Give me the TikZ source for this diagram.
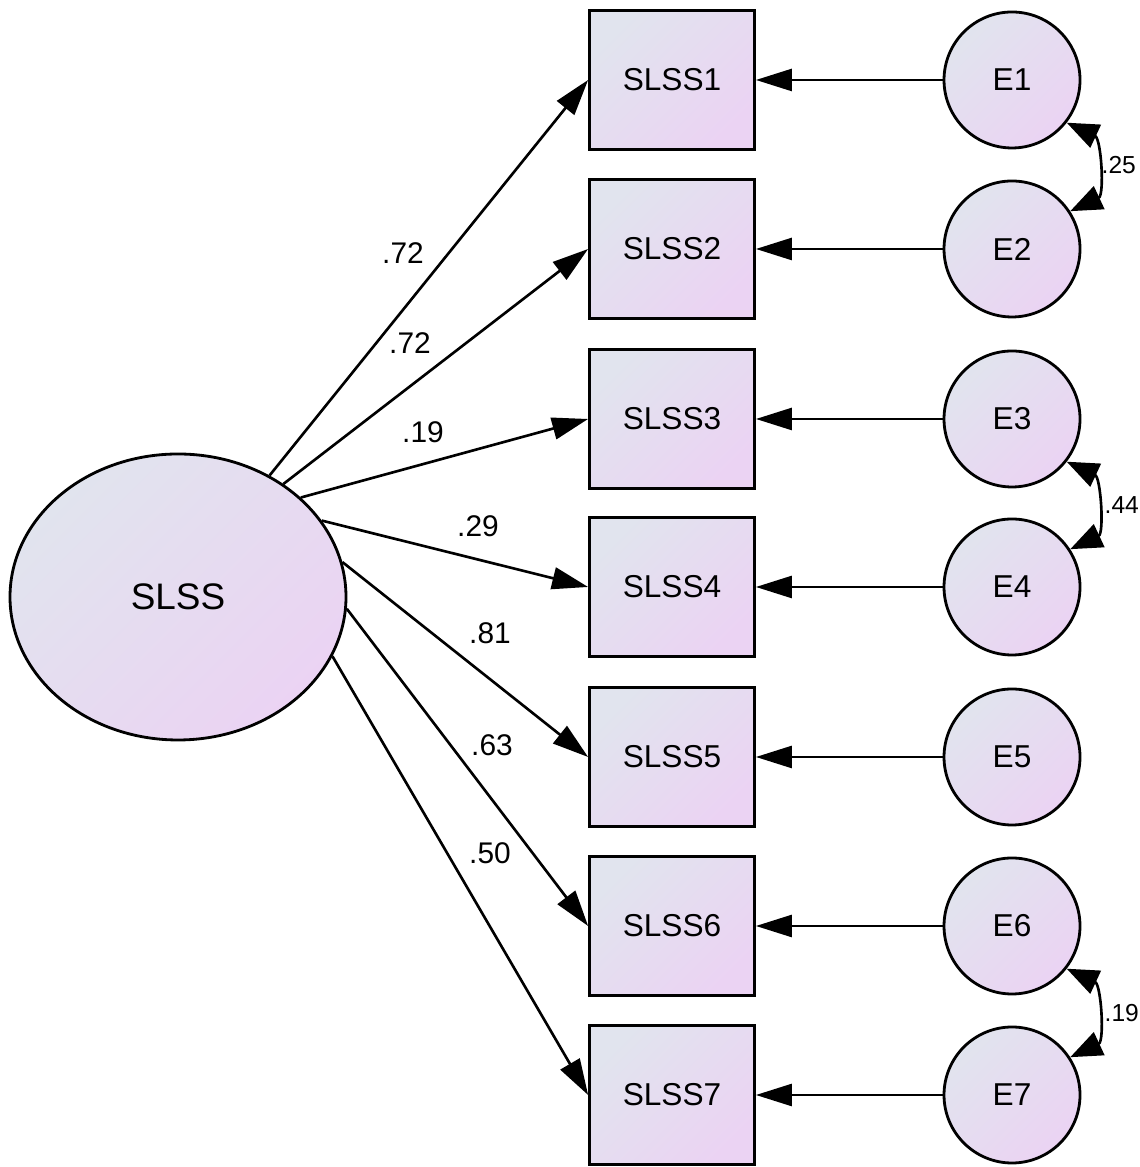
\documentclass[tikz,border=0pt]{standalone}
\usepackage{fontspec}
\setmainfont{Liberation Sans}
\usepackage{tikz}
\usepackage{xcolor}
\usetikzlibrary{arrows.meta,positioning,shapes.geometric,calc}

\definecolor{fillA}{HTML}{E1E4EE}
\definecolor{fillB}{HTML}{EBD3F3}

\begin{document}
\begin{tikzpicture}[
    >={Triangle[length=3.6mm,width=2.2mm]},
    lat/.style={ellipse,draw,line width=0.8pt,minimum width=3.36cm,minimum height=2.86cm,inner sep=0pt,
      top color=fillA,bottom color=fillB,shading angle=45,font=\fontsize{10.5}{12}\selectfont},
    obs/.style={rectangle,draw,line width=0.8pt,minimum width=1.65cm,minimum height=1.39cm,inner sep=0pt,
      top color=fillA,bottom color=fillB,shading angle=45,font=\fontsize{9}{11}\selectfont},
    err/.style={circle,draw,line width=0.8pt,minimum size=1.36cm,inner sep=0pt,
      top color=fillA,bottom color=fillB,shading angle=45,font=\fontsize{9}{11}\selectfont},
    load/.style={->,line width=0.75pt},
    cov/.style={{Triangle[length=3.2mm,width=2.5mm]}-{Triangle[length=3.2mm,width=2.5mm]},line width=0.75pt},
    wt/.style={font=\fontsize{8.5}{10}\selectfont,inner sep=0pt},
    cw/.style={font=\fontsize{7}{8}\selectfont,inner sep=0pt,anchor=west}]
  \useasboundingbox (0,0) rectangle (11.39,11.67);
  % ---- latent factor ----
  \node[lat] (SLSS) at (1.78,5.70) {SLSS};
  % ---- observed items (squares) ----
  \node[obs] (SLSS1) at (6.72,10.87) {SLSS1};
  \node[obs] (SLSS2) at (6.72,9.18) {SLSS2};
  \node[obs] (SLSS3) at (6.72,7.48) {SLSS3};
  \node[obs] (SLSS4) at (6.72,5.80) {SLSS4};
  \node[obs] (SLSS5) at (6.72,4.10) {SLSS5};
  \node[obs] (SLSS6) at (6.72,2.41) {SLSS6};
  \node[obs] (SLSS7) at (6.72,0.72) {SLSS7};
  % ---- error terms (circles) ----
  \node[err] (E1) at (10.12,10.87) {E1};
  \node[err] (E2) at (10.12,9.18) {E2};
  \node[err] (E3) at (10.12,7.48) {E3};
  \node[err] (E4) at (10.12,5.80) {E4};
  \node[err] (E5) at (10.12,4.10) {E5};
  \node[err] (E6) at (10.12,2.41) {E6};
  \node[err] (E7) at (10.12,0.72) {E7};
  % loadings
  \draw[load] (SLSS.53.6) -- (SLSS1.west);
  \draw[load] (SLSS.47.6) -- (SLSS2.west);
  \draw[load] (SLSS.39.4) -- (SLSS3.west);
  \draw[load] (SLSS.28)   -- (SLSS4.west);
  \draw[load] (SLSS.12.6) -- (SLSS5.west);
  \draw[load] (SLSS.-4.4) -- (SLSS6.west);
  \draw[load] (SLSS.-21.3) -- (SLSS7.west);
  \node[wt] (w1) at (4.03,9.14) {.72};
  \node[wt] (w2) at (4.10,8.24) {.72};
  \node[wt] (w3) at (4.23,7.35) {.19};
  \node[wt] (w4) at (4.78,6.41) {.29};
  \node[wt] (w5) at (4.90,5.34) {.81};
  \node[wt] (w6) at (4.92,4.22) {.63};
  \node[wt] (w7) at (4.90,3.14) {.50};
  % errors -> items
  \draw[load] (E1) -- (SLSS1);
  \draw[load] (E2) -- (SLSS2);
  \draw[load] (E3) -- (SLSS3);
  \draw[load] (E4) -- (SLSS4);
  \draw[load] (E5) -- (SLSS5);
  \draw[load] (E6) -- (SLSS6);
  \draw[load] (E7) -- (SLSS7);
  % correlated errors
  \draw[cov] (E1.-38) to[out=-25,in=25,looseness=1.1] (E2.33);
  \draw[cov] (E3.-38) to[out=-25,in=25,looseness=1.1] (E4.33);
  \draw[cov] (E6.-38) to[out=-25,in=25,looseness=1.1] (E7.33);
  \node[cw] (c12) at (11.01,10.02) {.25};
  \node[cw] (c34) at (11.04,6.62) {.44};
  \node[cw] (c67) at (11.04,1.54) {.19};
\end{tikzpicture}
\end{document}
